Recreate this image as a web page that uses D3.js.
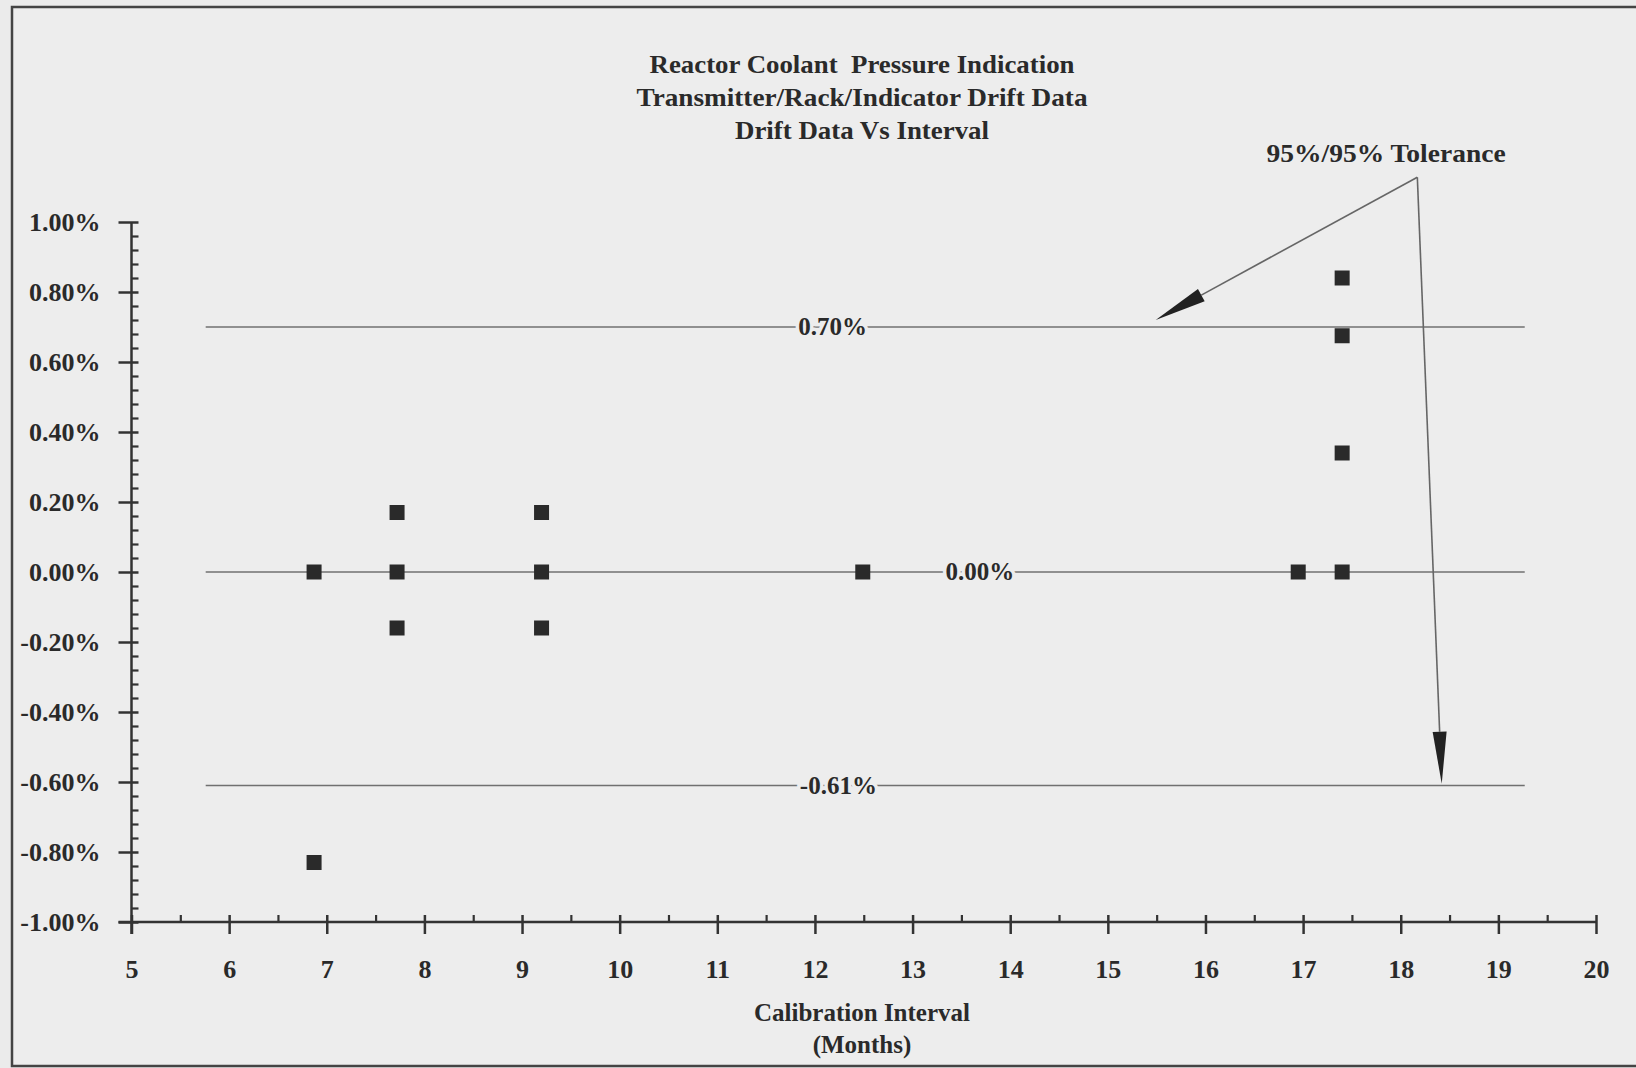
<!DOCTYPE html>
<html lang="en">
<head>
  <meta charset="UTF-8">
  <script type="text/javascript" src="https://cdn.jsdelivr.net/npm/d3@7/dist/d3.min.js"></script>
  <title>Drift Data Vs Interval</title>
  <style>
    html, body {
      margin: 0;
      padding: 0;
      background-color: #ebebeb;
    }
    svg {
      display: block;
      font-family: "Liberation Serif", "Times New Roman", serif;
      font-weight: bold;
      fill: #2a2a2a;
    }
    .title {
      white-space: pre;
    }
    .axis path, .axis line {
      fill: none;
      stroke: #333;
      stroke-width: 2.5;
    }
    .axis text {
      font-family: "Liberation Serif", serif;
      font-weight: bold;
      font-size: 26px;
      fill: #2a2a2a;
    }
    .tol {
      stroke: #707070;
      stroke-width: 1.6;
    }
    .dot {
      fill: #2a2a2a;
    }
  </style>
</head>
<body>
<div id="chart"></div>

<script>
  // calibration interval (months) and drift (%)
  var months = [6.87, 6.87, 7.72, 7.72, 7.72, 9.2, 9.2, 9.2, 12.49, 16.95, 17.4, 17.4, 17.4, 17.4];
  var drift  = [0.00, -0.83, 0.17, 0.00, -0.16, 0.17, 0.00, -0.16, 0.00, 0.00, 0.00, 0.34, 0.675, 0.84];

  // 95%/95% tolerance lines
  var tolValues = [0.70, 0.00, -0.61];
  var tolLabels = ["0.70%", "0.00%", "-0.61%"];

  var titleLines = ["Reactor Coolant  Pressure Indication",
                    "Transmitter/Rack/Indicator Drift Data",
                    "Drift Data Vs Interval"];
  var xTicks = d3.range(5, 21);
  var yTicks = [-1.0, -0.8, -0.6, -0.4, -0.2, 0.0, 0.2, 0.4, 0.6, 0.8, 1.0];

  var W = 1636, H = 1068;

  var svg = d3.select("#chart")
    .append("svg")
    .attr("width", W)
    .attr("height", H);

  // scanned page frame
  svg.append("rect")
    .attr("x", 12).attr("y", 7)
    .attr("width", 1700).attr("height", 1059)
    .attr("fill", "#ededed")
    .attr("stroke", "#444")
    .attr("stroke-width", 2.5);

  var xScale = d3.scaleLinear().domain([5, 20]).range([131.5, 1596]);
  var yScale = d3.scaleLinear().domain([-1, 1]).range([922, 222]);

  // titles
  var titleW = [425, 451, 254];
  svg.selectAll(".title")
    .data(titleLines)
    .enter()
    .append("text")
    .attr("class", "title")
    .attr("x", 862)
    .attr("y", function(d, i) { return 73 + i * 33; })
    .attr("text-anchor", "middle")
    .attr("textLength", function(d, i) { return titleW[i]; })
    .attr("lengthAdjust", "spacingAndGlyphs")
    .style("font-size", "25px")
    .text(function(d) { return d; });

  // tolerance lines
  svg.selectAll(".tol")
    .data(tolValues)
    .enter()
    .append("line")
    .attr("class", "tol")
    .attr("x1", xScale(5.76))
    .attr("x2", xScale(19.27))
    .attr("y1", function(d) { return yScale(d); })
    .attr("y2", function(d) { return yScale(d); });

  var labelX = [12.18, 13.69, 12.24];
  svg.selectAll(".tolLabel")
    .data(tolValues)
    .enter()
    .append("text")
    .attr("class", "tolLabel")
    .attr("x", function(d, i) { return xScale(labelX[i]); })
    .attr("y", function(d) { return yScale(d) + 8; })
    .attr("text-anchor", "middle")
    .style("font-size", "25px")
    .style("stroke", "#ededed")
    .style("stroke-width", 7)
    .style("paint-order", "stroke")
    .text(function(d, i) { return tolLabels[i]; });

  // y axis: major ticks cross the axis, minor ticks inside
  var yMinor = d3.range(-1, 1.0001, 0.04).filter(function(v) {
    return Math.abs(Math.round(v * 5) - v * 5) > 0.01;
  });
  svg.append("g")
    .attr("class", "axis")
    .attr("transform", "translate(" + xScale(5) + ",0)")
    .call(d3.axisLeft(yScale).tickValues(yMinor).tickSize(0).tickFormat(""))
    .call(function(g) {
      g.select(".domain").remove();
      g.selectAll(".tick line").attr("x1", 0).attr("x2", 7).style("stroke-width", 2.2);
    });

  var yAxis = svg.append("g")
    .attr("class", "axis")
    .attr("transform", "translate(" + xScale(5) + ",0)")
    .call(d3.axisLeft(yScale)
      .tickValues(yTicks)
      .tickSize(13)
      .tickSizeOuter(0)
      .tickPadding(18)
      .tickFormat(function(d) { return d.toFixed(2) + "%"; }));
  yAxis.selectAll(".tick line").attr("x2", 7).attr("x1", -13);
  yAxis.select(".domain").attr("d", "M0," + yScale(1) + "V" + (yScale(-1) + 12));
  yAxis.selectAll(".tick text").attr("dy", "0.34em");

  // x axis
  var xMinor = d3.range(5.5, 20, 1);
  svg.append("g")
    .attr("class", "axis")
    .attr("transform", "translate(0," + yScale(-1) + ")")
    .call(d3.axisBottom(xScale).tickValues(xMinor).tickSize(0).tickFormat(""))
    .call(function(g) {
      g.select(".domain").remove();
      g.selectAll(".tick line").attr("y1", -7).attr("y2", 0).style("stroke-width", 2.2);
    });

  var xAxis = svg.append("g")
    .attr("class", "axis")
    .attr("transform", "translate(0," + yScale(-1) + ")")
    .call(d3.axisBottom(xScale)
      .tickValues(xTicks)
      .tickSize(12)
      .tickSizeOuter(0)
      .tickFormat(d3.format("d")));
  xAxis.selectAll(".tick line").attr("y1", -7).attr("y2", 12);
  xAxis.select(".domain").attr("d", "M" + (xScale(5) - 13) + ",0H" + xScale(20));
  xAxis.selectAll(".tick text").attr("y", 38).attr("dy", "0.71em");

  // axis title
  svg.append("text")
    .attr("x", 862).attr("y", 1021)
    .attr("text-anchor", "middle")
    .style("font-size", "25px")
    .text("Calibration Interval");
  svg.append("text")
    .attr("x", 862).attr("y", 1053)
    .attr("text-anchor", "middle")
    .style("font-size", "25px")
    .text("(Months)");

  // data points
  var pts = months.map(function(m, i) { return {m: m, v: drift[i]}; });
  var s = 15;
  svg.selectAll(".dot")
    .data(pts)
    .enter()
    .append("rect")
    .attr("class", "dot")
    .attr("x", function(d) { return xScale(d.m) - s / 2; })
    .attr("y", function(d) { return yScale(d.v) - s / 2; })
    .attr("width", s)
    .attr("height", s);

  // 95%/95% tolerance callout
  svg.append("text")
    .attr("x", xScale(17.85)).attr("y", 162)
    .attr("text-anchor", "middle")
    .attr("textLength", 239)
    .attr("lengthAdjust", "spacingAndGlyphs")
    .style("font-size", "25px")
    .text("95%/95% Tolerance");

  var apex = [xScale(18.17), yScale(1.128)];
  var tips = [[xScale(15.49), yScale(0.72)], [xScale(18.42), yScale(-0.605)]];

  tips.forEach(function(t) {
    var dx = t[0] - apex[0], dy = t[1] - apex[1];
    var len = Math.sqrt(dx * dx + dy * dy);
    var ux = dx / len, uy = dy / len;
    var headLen = 52, headW = 7;
    var bx = t[0] - ux * headLen, by = t[1] - uy * headLen;
    svg.append("line")
      .attr("x1", apex[0]).attr("y1", apex[1])
      .attr("x2", bx).attr("y2", by)
      .attr("stroke", "#666")
      .attr("stroke-width", 1.6);
    svg.append("path")
      .attr("d", "M" + t[0] + "," + t[1] +
        "L" + (bx - uy * headW) + "," + (by + ux * headW) +
        "L" + (bx + uy * headW) + "," + (by - ux * headW) + "Z")
      .attr("fill", "#222");
  });
</script>
</body>
</html>
